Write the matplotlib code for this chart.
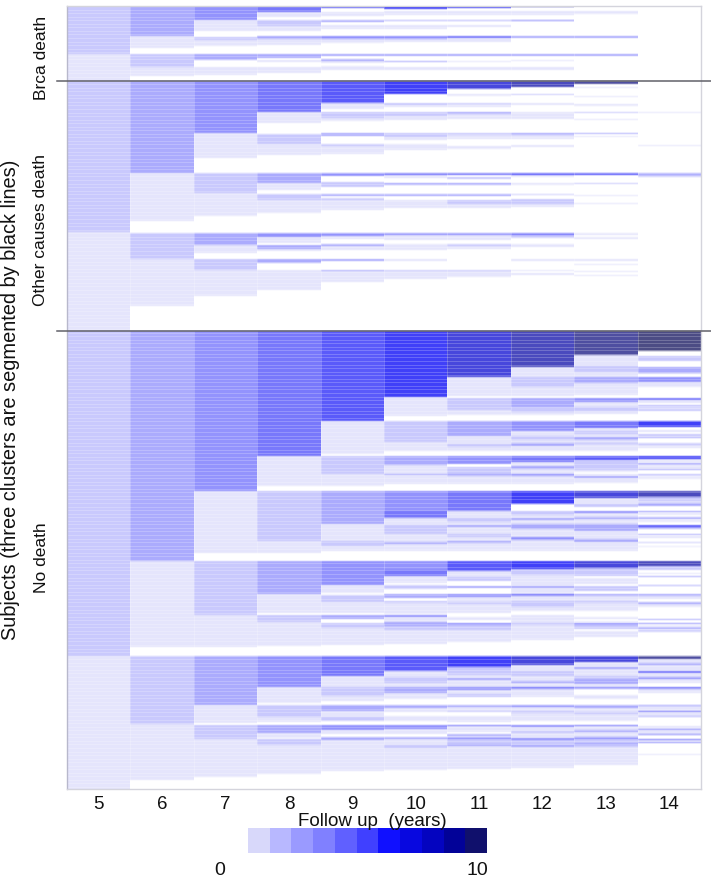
import numpy as np
import matplotlib
matplotlib.use("Agg")
import matplotlib.pyplot as plt
from matplotlib.colors import ListedColormap, to_rgb

plt.rcParams['font.family'] = ['Liberation Sans', 'DejaVu Sans']

years = [5, 6, 7, 8, 9, 10, 11, 12, 13, 14]
# runs: (first subject position, last subject position, level); level 0 = blank, level n = count n-1
col_05 = [(7,55,2),(55,82,1),(82,233,2),(233,332,1),(332,657,2),(657,790,1)]
col_06 = [(7,37,3),(37,49,1),(55,68,2),(68,77,1),(82,174,3),(174,222,1),(234,260,2),(260,307,1),
          (332,562,3),(562,648,1),(657,725,2),(725,781,1)]
col_07 = [(7,21,4),(21,32,1),(38,41,2),(41,47,1),(55,61,3),(68,76,1),(82,134,4),(134,159,1),
          (174,194,2),(194,217,1),(234,246,3),(246,254,1),(260,271,2),(271,297,1),
          (332,492,4),(492,554,1),(562,616,2),(616,648,1),(657,706,3),(706,724,1),(726,740,2),(740,778,1)]
col_08 = [(7,13,5),(13,18,1),(21,27,2),(27,32,1),(37,40,3),(40,46,1),(55,59,3),(61,63,1),(68,74,1),
          (82,113,5),(113,124,1),(135,145,2),(145,156,1),(174,184,3),(184,191,1),(195,201,2),(201,214,1),
          (234,238,4),(238,244,1),(246,250,3),(250,252,1),(260,264,3),(271,291,1),
          (332,457,5),(457,487,1),(492,542,2),(542,554,1),(562,595,3),(595,614,1),(616,623,2),(623,647,1),
          (657,688,4),(688,704,1),(706,718,2),(718,723,1),(726,734,3),(734,739,1),(740,746,2),(746,775,1)]
col_09 = [(7,9,6),(13,17,1),(21,23,3),(26,30,1),(37,40,4),(40,44,1),(55,57,3),(60,62,3),(62,64,1),(67,71,1),
          (82,104,6),(104,110,1),(113,119,2),(119,122,1),(134,137,3),(145,147,2),(147,155,1),
          (174,177,4),(183,188,2),(195,197,3),(199,201,2),(201,211,1),(234,237,4),(237,240,1),(245,247,3),(247,251,1),
          (260,262,3),(271,272,3),(272,283,1),
          (332,422,6),(422,455,1),(457,475,2),(475,487,1),(492,525,3),(525,542,1),(542,547,2),(547,552,1),
          (562,586,4),(586,594,1),(596,603,2),(603,614,1),(616,620,3),(624,629,2),(629,646,1),
          (657,677,5),(677,688,1),(688,697,2),(697,702,1),(706,712,3),(712,718,1),(718,722,2),
          (726,731,4),(731,735,1),(738,741,3),(741,772,1)]
col_10 = [(7,10,7),(12,16,1),(21,22,3),(26,30,1),(37,40,4),(40,43,1),(55,57,3),(62,63,3),(68,71,1),
          (82,95,7),(104,106,2),(106,108,1),(113,117,2),(117,121,1),(134,138,2),(138,141,1),(145,151,1),
          (174,176,5),(176,179,1),(184,186,3),(195,197,3),(201,209,1),(234,236,4),(236,241,1),(245,251,1),
          (260,262,1),(271,272,2),(272,280,1),
          (332,398,7),(398,417,1),(422,443,2),(443,452,1),(457,466,3),(466,475,1),(475,476,3),(476,485,1),
          (492,512,4),(512,519,5),(519,526,1),(526,535,2),(535,543,1),(543,545,3),(545,552,1),
          (562,571,4),(571,577,5),(577,584,1),(586,590,2),(595,599,3),(602,604,2),(604,615,1),
          (616,618,4),(618,623,1),(623,627,3),(627,631,2),(631,645,1),
          (657,672,6),(672,678,1),(678,684,2),(684,688,1),(688,694,3),(694,700,1),(706,709,3),(709,713,1),(717,722,1),
          (726,730,4),(730,735,1),(738,740,3),(740,746,1),(746,749,2),(749,771,1)]
col_11 = [(7,9,7),(12,16,1),(21,22,3),(26,28,1),(37,39,5),(39,43,1),(55,57,3),(62,63,1),(68,71,1),
          (82,90,8),(95,97,1),(104,105,2),(105,108,1),(113,115,3),(115,120,1),(134,136,2),(136,140,1),(147,150,1),
          (174,176,5),(178,180,2),(184,186,3),(195,197,3),(201,205,2),(205,209,1),(234,236,4),(236,241,1),(245,247,2),(247,250,1),
          (271,272,2),(272,278,1),
          (332,378,8),(378,397,1),(399,411,2),(411,416,1),(422,437,3),(437,445,1),(445,448,2),(448,452,1),
          (457,465,4),(468,475,2),(475,477,3),(477,485,1),
          (492,512,5),(512,519,1),(519,523,2),(523,526,1),(526,528,3),(528,535,1),(535,538,2),(538,542,1),(542,544,3),(544,552,1),
          (562,572,6),(572,578,1),(578,582,2),(587,589,3),(595,598,4),(598,603,1),(603,605,2),(605,614,1),
          (618,621,1),(624,626,4),(626,631,2),(631,643,1),
          (657,668,7),(668,676,2),(676,679,1),(679,681,3),(681,688,1),(688,691,4),(691,695,1),(695,698,2),
          (706,708,3),(708,712,1),(712,713,2),(717,723,1),(726,727,5),(727,733,1),(735,737,3),(738,740,4),(740,745,2),(745,747,3),(747,770,1)]
col_12 = [(7,8,9),(12,16,1),(21,22,5),(37,39,3),(55,57,3),(61,62,1),(68,71,1),
          (82,88,9),(95,96,2),(104,106,1),(113,115,1),(115,120,1),(134,136,3),(136,140,1),(146,148,1),
          (174,176,6),(176,178,1),(184,186,1),(195,196,2),(200,205,2),(205,208,1),(234,236,5),(236,239,2),(245,248,1),
          (260,262,1),(271,272,1),(274,276,1),
          (332,368,9),(368,378,1),(378,388,2),(388,397,1),(399,408,3),(408,413,2),(413,416,1),
          (422,432,4),(432,437,1),(437,441,2),(441,444,1),(444,447,3),(447,452,1),
          (457,463,5),(463,467,1),(467,470,3),(470,475,1),(475,477,4),(477,485,1),
          (492,505,7),(512,516,2),(516,519,1),(519,521,3),(521,525,1),(525,530,3),(530,538,1),(538,541,4),(541,552,1),
          (562,570,7),(570,576,2),(576,587,1),(587,589,3),(589,595,1),(595,597,5),(597,602,1),(602,608,2),(608,612,1),
          (616,624,1),(624,626,2),(626,641,1),
          (657,666,8),(666,672,1),(672,677,2),(677,682,1),(682,684,3),(684,688,1),(688,690,5),(690,698,1),
          (706,708,4),(708,712,1),(712,714,2),(714,722,1),(726,728,4),(728,732,1),(732,734,2),(734,739,1),
          (739,741,4),(741,746,2),(746,748,3),(748,769,1)]
col_13 = [(12,15,1),(37,39,3),(55,57,3),
          (82,85,10),(88,89,1),(97,98,1),(105,107,1),(113,114,2),(120,121,1),(134,135,3),(137,138,1),
          (174,176,6),(184,185,2),(196,197,1),(204,205,1),(234,236,1),(238,240,1),(260,262,1),(265,266,1),(272,273,1),(276,277,1),
          (332,356,10),(356,367,1),(367,373,2),(373,378,1),(378,384,3),(384,396,1),(399,403,4),(403,408,1),(408,412,2),(412,415,1),
          (422,429,5),(429,432,1),(432,435,2),(435,438,1),(438,441,3),(441,444,1),(444,445,3),(445,452,1),
          (457,461,6),(461,471,2),(471,473,1),(475,477,1),(477,479,3),(479,484,1),
          (492,499,8),(499,505,1),(505,508,2),(512,514,4),(514,518,1),(518,520,3),(520,525,1),(525,532,3),(532,540,1),(540,543,3),(543,552,1),
          (562,569,8),(569,577,2),(579,585,1),(587,592,2),(595,597,3),(597,602,1),(602,604,2),(604,612,1),
          (618,620,1),(622,623,1),(624,626,4),(626,630,2),(632,638,1),
          (657,663,8),(663,668,1),(668,670,3),(670,677,1),(677,680,2),(680,685,3),(685,688,1),(688,690,4),(696,700,1),
          (706,709,3),(709,713,1),(713,715,2),(715,722,1),(726,727,5),(727,731,1),(731,733,3),(733,738,1),
          (738,740,4),(740,744,2),(744,746,3),(746,748,2),(748,766,1)]
col_14 = [(113,114,1),(146,147,1),(174,176,3),(176,178,2),
          (332,352,11),(357,362,2),(368,374,3),(374,375,1),(378,383,4),(383,388,1),(399,401,5),(401,404,1),(406,407,3),(408,409,3),(410,412,2),
          (422,428,7),(431,433,1),(435,437,2),(437,438,1),(438,439,3),(444,446,2),(446,449,1),
          (457,460,7),(460,463,1),(464,466,3),(467,470,1),(470,471,3),(475,477,2),(478,480,1),
          (492,498,9),(498,502,2),(502,504,1),(504,507,3),(512,513,4),(514,516,1),(518,520,3),(521,523,1),(526,528,6),(528,530,3),(535,536,3),(537,539,1),(543,544,2),(547,548,1),
          (562,567,9),(567,571,2),(574,575,1),(577,578,3),(586,587,3),(595,597,3),(597,600,1),(603,605,3),(605,608,1),
          (620,621,3),(624,625,4),(626,627,1),(628,630,3),(631,633,2),
          (657,660,10),(660,664,1),(664,666,3),(666,672,1),(672,674,5),(674,678,1),(678,680,4),(680,684,1),(688,690,5),(690,694,1),
          (706,707,4),(707,712,1),(712,713,5),(713,717,1),(717,718,3),(727,730,1),(730,731,4),(731,735,1),(735,736,5),(740,741,5),(741,743,1),(743,744,4),(755,756,1)]
columns = [col_05, col_06, col_07, col_08, col_09, col_10, col_11, col_12, col_13, col_14]

level_colors = ['#FFFFFF', '#E5E5FC', '#C9C9FD', '#ABABFD', '#9393FD', '#7878FB', '#5A5AFA',
                '#4040F8', '#4747DC', '#4A4ABE', '#4E4EA0', '#4C4C84']
legend_colors = ['#D8D8FA', '#B8B8FF', '#9A9AFF', '#8080FF', '#6060FF', '#4040FF', '#1010FF',
                 '#0808E0', '#0404C0', '#020298', '#10106C']
cluster_breaks = [82, 332]
cluster_names = ['Brca death', 'Other causes death', 'No death']
cluster_label_y = [58, 230, 558]

W, H = 711, 879
fig = plt.figure(figsize=(W / 100, H / 100), dpi=100)
ax = fig.add_axes([67 / W, 1 - 790 / H, 634 / W, 783 / H])

first, last = 7, 790
matrix = np.zeros((last - first, len(years)), dtype=int)
for j, runs in enumerate(columns):
    for a, b, lev in runs:
        matrix[a - first:b - first, j] = lev

# colour the cells, with the slight vertical softness of the original raster
palette = np.array([to_rgb(c) for c in level_colors])
rgb = palette[matrix]
pad = np.pad(rgb, ((1, 1), (0, 0), (0, 0)), mode='edge')
rgb = 0.22 * pad[:-2] + 0.56 * pad[1:-1] + 0.22 * pad[2:]
xe = np.arange(len(years) + 1) + years[0] - 0.5
ax.imshow(rgb, extent=[xe[0], xe[-1], last, first], aspect='auto', interpolation='nearest')

# faint subject stripes and column seams
ax.hlines(np.arange(first, last, 3.55), xe[0], xe[-1], color='white', lw=0.5, alpha=0.3)
ax.vlines(xe[1:-1], first, last, color='white', lw=0.6, alpha=0.25)

for s in ax.spines.values():
    s.set_color('#D4D4DC')
    s.set_linewidth(1.0)
ax.spines['left'].set_color('#B8B8CC')

ax.set_yticks([])
ax.set_xticks(years)
ax.set_xticklabels([str(y) for y in years], fontsize=13.5, color='#111111')
ax.tick_params(axis='x', length=0, pad=4)

for b in cluster_breaks:
    ax.plot([-0.015, 1.016], [b, b], color='#606068', lw=1.1,
            transform=ax.get_yaxis_transform(), clip_on=False, zorder=5)

fig.text(372 / W, 1 - 822 / H, 'Follow up  (years)', fontsize=13.5, ha='center', va='center', color='#111111')
fig.text(11 / W, 1 - 400 / H, 'Subjects (three clusters are segmented by black lines)',
         fontsize=14.4, rotation=90, ha='center', va='center', color='#111111')
for name, y in zip(cluster_names, cluster_label_y):
    fig.text(41 / W, 1 - y / H, name, fontsize=12.5, rotation=90, ha='center', va='center', color='#111111')

cax = fig.add_axes([248 / W, 1 - 854 / H, 239 / W, 25 / H])
cax.pcolormesh(np.arange(len(legend_colors) + 1), [0, 1], np.arange(len(legend_colors)).reshape(1, -1),
               cmap=ListedColormap(legend_colors), shading='flat')
cax.axis('off')
fig.text(220 / W, 1 - 871 / H, '0', fontsize=14, ha='center', va='center', color='#111111')
fig.text(477 / W, 1 - 871 / H, '10', fontsize=14, ha='center', va='center', color='#111111')

fig.savefig('out.png', dpi=100)
